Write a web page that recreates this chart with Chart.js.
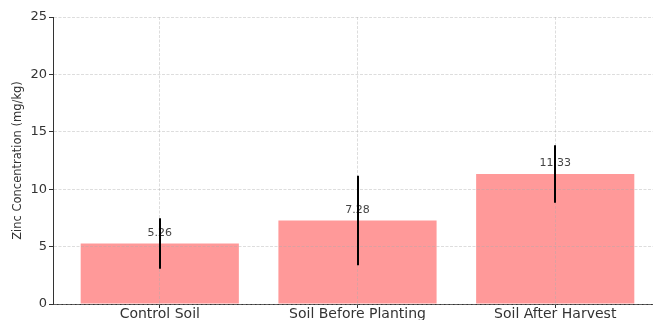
<!DOCTYPE html>
<html>
<head>
<meta charset="utf-8">
<script src="https://cdn.jsdelivr.net/npm/chart.js@4/dist/chart.umd.min.js"></script>
<style>
  html, body { margin: 0; padding: 0; background: #fff; overflow: hidden; }
  #wrap { width: 653px; height: 320px; overflow: hidden; }
  canvas { display: block; }
</style>
</head>
<body>
<div id="wrap"><canvas id="c" width="680" height="320"></canvas></div>
<script>
// Zinc concentration per soil sample group (mean and standard deviation, mg/kg)
const categories = ['Control Soil', 'Soil Before Planting', 'Soil After Harvest'];
const zincMeans = [5.26, 7.28, 11.33];
const zincErrors = [2.2, 3.9, 2.5];
const yTickValues = [0, 5, 10, 15, 20, 25];

const FONT = 'DejaVu Sans';
const TEXT = '#333333';
const GRID = 'rgba(170,170,170,0.4)';

// Value labels and error bars drawn over the bars
const errorBarPlugin = {
  id: 'errorBars',
  afterDraw(chart) {
    const { ctx } = chart;
    const xs = chart.scales.x, ys = chart.scales.y;
    ctx.save();
    ctx.font = '11px "' + FONT + '"';
    ctx.fillStyle = '#444444';
    ctx.textAlign = 'center';
    ctx.textBaseline = 'middle';
    zincMeans.forEach((v, i) => {
      const px = xs.getPixelForValue(i);
      ctx.fillText(v.toFixed(2), px, ys.getPixelForValue(v) - 10.5);
    });
    ctx.strokeStyle = '#000000';
    ctx.lineWidth = 2;
    zincMeans.forEach((v, i) => {
      const px = Math.round(xs.getPixelForValue(i));
      ctx.beginPath();
      ctx.moveTo(px, ys.getPixelForValue(v - zincErrors[i]));
      ctx.lineTo(px, ys.getPixelForValue(v + zincErrors[i]));
      ctx.stroke();
    });
    ctx.restore();
  }
};

const gridOpts = {
  z: 1,
  offset: false,
  color: GRID,
  lineWidth: 1,
  drawTicks: true,
  tickLength: 4,
  tickColor: '#333333',
  tickBorderDash: []
};

new Chart(document.getElementById('c'), {
  type: 'bar',
  data: {
    datasets: [{
      data: zincMeans.map((v, i) => ({ x: i, y: v })),
      backgroundColor: '#ff9999',
      borderWidth: 0,
      barPercentage: 0.8,
      categoryPercentage: 1.0
    }]
  },
  options: {
    responsive: false,
    animation: false,
    devicePixelRatio: 1,
    layout: { padding: { left: 0, top: 17, right: 18, bottom: 0 } },
    plugins: { legend: { display: false }, tooltip: { enabled: false } },
    scales: {
      x: {
        type: 'linear',
        offset: false,
        min: -0.54,
        max: 2.54,
        afterBuildTicks(scale) {
          scale.ticks = categories.map((_, i) => ({ value: i }));
        },
        afterFit(scale) { scale.height = 16; },
        ticks: {
          z: 1,
          callback: (v) => categories[v] ?? '',
          color: TEXT,
          font: { family: FONT, size: 14 },
          padding: -2.5,
          maxRotation: 0,
          autoSkip: false
        },
        grid: gridOpts,
        border: { z: 1, display: true, color: '#333333', width: 1, dash: [3, 1.5] }
      },
      y: {
        min: 0,
        max: 25,
        afterBuildTicks(scale) {
          scale.ticks = yTickValues.map(v => ({ value: v }));
        },
        afterFit(scale) { scale.width = 53; },
        ticks: {
          z: 1,
          color: TEXT,
          font: { family: FONT, size: 13 },
          padding: 2
        },
        grid: gridOpts,
        border: { z: 1, display: true, color: '#333333', width: 1, dash: [3, 1.5] },
        title: {
          display: true,
          text: 'Zinc Concentration (mg/kg)',
          color: TEXT,
          font: { family: FONT, size: 11.5 },
          padding: { top: 11.5, bottom: 0 }
        }
      }
    }
  },
  plugins: [errorBarPlugin]
});
</script>
</body>
</html>
